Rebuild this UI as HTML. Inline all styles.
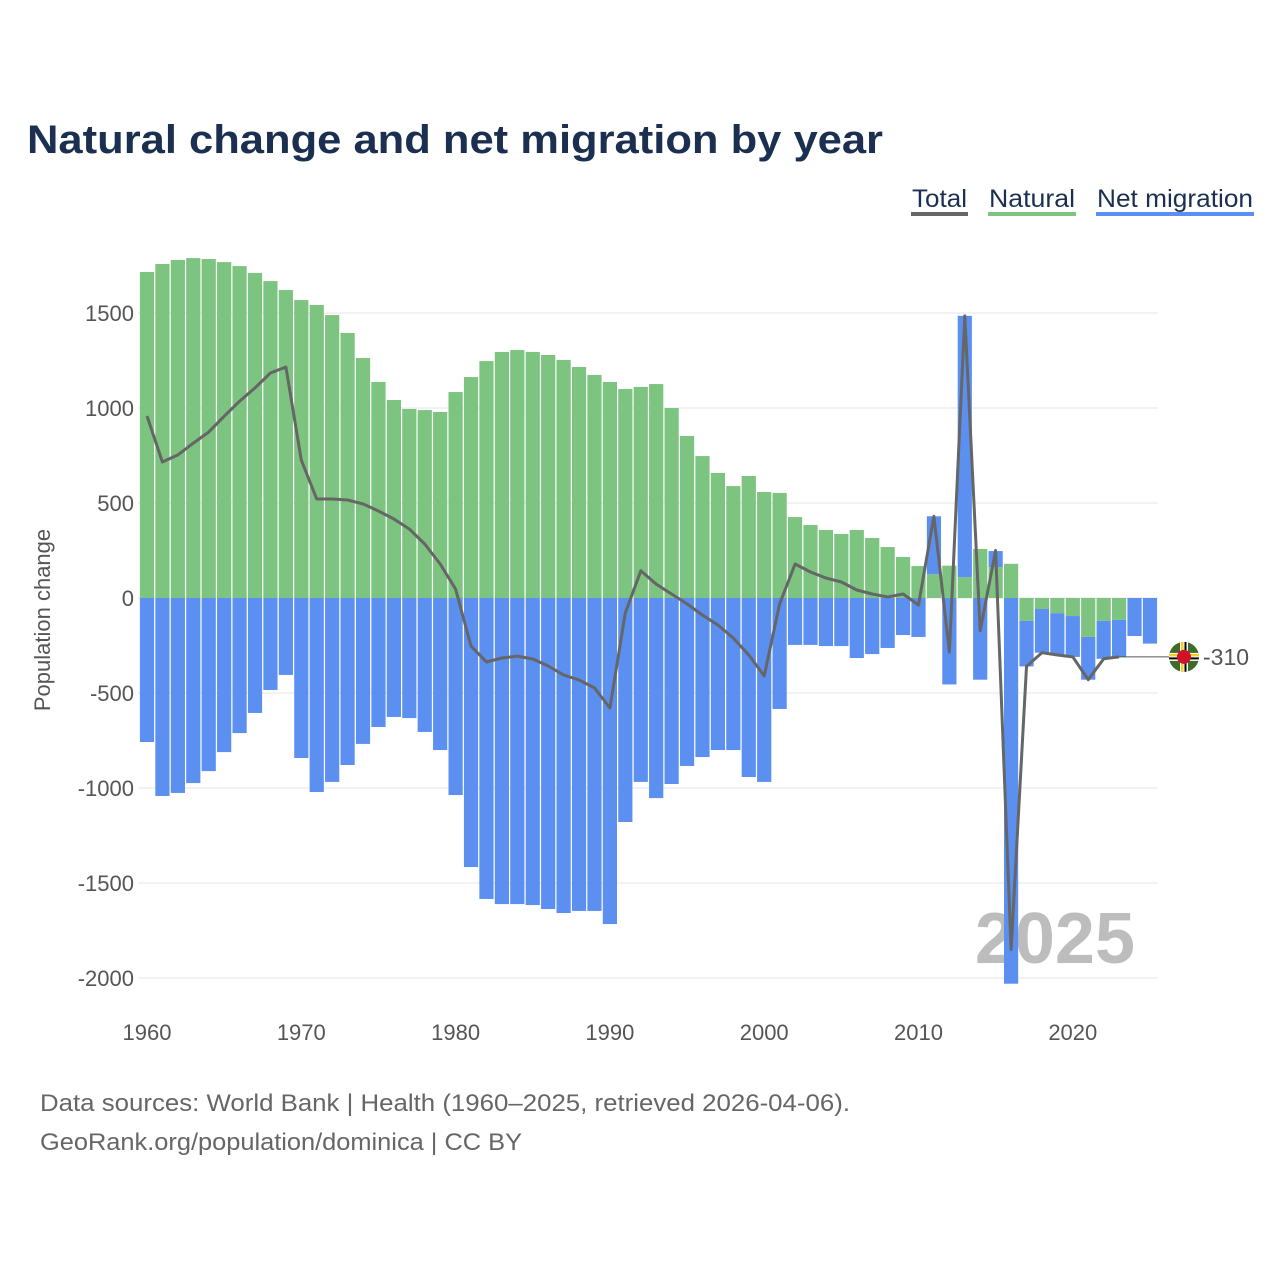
<!DOCTYPE html>
<html><head><meta charset="utf-8"><style>
html,body{margin:0;padding:0;background:#fff;}
svg{display:block;font-family:"Liberation Sans",sans-serif;}
</style></head><body>
<svg id="chart" width="1280" height="1280" viewBox="0 0 1280 1280">
<text x="27" y="153" font-size="40" font-weight="bold" fill="#1b3050" textLength="856" lengthAdjust="spacingAndGlyphs">Natural change and net migration by year</text>
<g>
<g><text x="912" y="207" font-size="25" fill="#1b3050" textLength="55" lengthAdjust="spacingAndGlyphs">Total</text><rect x="911" y="212" width="57" height="4" fill="#666"/></g>
<g><text x="989" y="207" font-size="25" fill="#1b3050" textLength="86" lengthAdjust="spacingAndGlyphs">Natural</text><rect x="988" y="212" width="88" height="4" fill="#7cc47f"/></g>
<g><text x="1097" y="207" font-size="25" fill="#1b3050" textLength="156" lengthAdjust="spacingAndGlyphs">Net migration</text><rect x="1096" y="212" width="158" height="4" fill="#5b8ff0"/></g>
</g>
<g id="grid"></g>
<g id="yticks"></g>
<g id="xticks"></g>
<text x="1135" y="963" font-size="72" font-weight="bold" fill="#bdbdbd" text-anchor="end">2025</text>
<g id="bars"></g>
<g id="lines"></g>
<text transform="translate(50,620) rotate(-90)" font-size="22" fill="#555" text-anchor="middle">Population change</text>
<text x="40" y="1111" font-size="24" fill="#666" textLength="810" lengthAdjust="spacingAndGlyphs">Data sources: World Bank | Health (1960–2025, retrieved 2026-04-06).</text>
<text x="40" y="1150" font-size="24" fill="#666" textLength="482" lengthAdjust="spacingAndGlyphs">GeoRank.org/population/dominica | CC BY</text>
</svg>
<script>
const years = [];
for (let y = 1960; y <= 2025; y++) years.push(y);
const natural = [1716,1758,1779,1789,1784,1768,1747,1711,1668,1621,1568,1542,1489,1395,1263,1137,1042,995,989,979,1084,1163,1247,1295,1305,1295,1279,1253,1216,1174,1137,1100,1111,1126,1000,853,747,658,589,642,558,553,426,384,358,337,358,316,268,216,168,125,170,110,258,163,180,-120,-58,-80,-95,-205,-120,-115,0,0];
const migration = [-758,-1042,-1026,-974,-911,-811,-711,-605,-484,-405,-842,-1021,-968,-879,-768,-679,-626,-632,-705,-800,-1037,-1416,-1584,-1611,-1611,-1616,-1637,-1658,-1647,-1647,-1716,-1179,-968,-1053,-979,-884,-837,-800,-800,-942,-968,-584,-247,-247,-253,-253,-316,-295,-263,-195,-205,305,-455,1375,-430,84,-2030,-240,-230,-220,-215,-225,-200,-195,-200,-240];
const total = [958,716,753,815,873,957,1036,1106,1184,1216,726,521,521,516,495,458,416,363,284,179,47,-253,-337,-316,-306,-321,-358,-405,-431,-473,-579,-79,143,73,21,-31,-90,-142,-211,-300,-410,-31,179,137,105,84,42,21,5,21,-37,430,-285,1485,-172,250,-1850,-360,-288,-300,-310,-430,-320,-310,null,null];
const yTicks = [1500,1000,500,0,-500,-1000,-1500,-2000];
const xTicks = [1960,1970,1980,1990,2000,2010,2020];
const lastLabel = "-310";

const NS = "http://www.w3.org/2000/svg";
const yS = v => 598 - v * 0.19;
const xS = yr => 147 + (yr - 1960) * 15.43;
const L = 138, R = 1158, BW = 14.2;
function mk(tag, attrs, parent) {
  const e = document.createElementNS(NS, tag);
  for (const k in attrs) e.setAttribute(k, attrs[k]);
  parent.appendChild(e);
  return e;
}
const grid = document.getElementById('grid'), yt = document.getElementById('yticks'), xt = document.getElementById('xticks');
yTicks.forEach(v => {
  const g = mk('line', {x1: L, x2: R, y1: yS(v), y2: yS(v), stroke: '#e6e6e6', 'stroke-width': 1}, grid);
  
  
  const t = mk('text', {x: 134, y: yS(v) + 8, 'font-size': 22, fill: '#555', 'text-anchor': 'end'}, yt);
  t.textContent = v;
  
  
});
xTicks.forEach(v => {
  const t = mk('text', {x: xS(v), y: 1040, 'font-size': 22, fill: '#555', 'text-anchor': 'middle'}, xt);
  t.textContent = v;
  
  
});
const bars = document.getElementById('bars');
years.forEach((yr, i) => {
  let pos = 0, neg = 0;
  [[natural[i], '#7cc47f', 'natural-bar'], [migration[i], '#5b8ff0', 'migration-bar']].forEach(([v, c, n]) => {
    if (!v) return;
    let a, b;
    if (v > 0) { a = pos; b = pos + v; pos = b; } else { a = neg; b = neg + v; neg = b; }
    const y1 = yS(Math.max(a, b)), y2 = yS(Math.min(a, b));
    const r = mk('rect', {x: xS(yr) - BW / 2, y: y1, width: BW, height: y2 - y1, fill: c}, bars);
    
    
  });
});
const lines = document.getElementById('lines');
let d = '', lastX = 0, lastY = 0;
total.forEach((v, i) => {
  if (v === null) return;
  lastX = xS(years[i]); lastY = yS(v);
  d += (d ? 'L' : 'M') + lastX.toFixed(1) + ',' + lastY.toFixed(1);
});
const ld = mk('line', {x1: lastX, x2: 1184, y1: lastY, y2: lastY, stroke: '#555', 'stroke-width': 1}, lines);


const p = mk('path', {d: d, fill: 'none', stroke: '#666', 'stroke-width': 3, 'stroke-linejoin': 'round'}, lines);


const fg = mk('g', {transform: `translate(1184,${lastY})`}, lines);


fg.innerHTML = '<clipPath id="fc"><circle r="15"/></clipPath><g clip-path="url(#fc)"><rect x="-15" y="-15" width="30" height="30" fill="#3f6b2a"/><rect x="-4" y="-15" width="8" height="30" fill="#fff"/><rect x="-15" y="-4" width="30" height="8" fill="#fff"/><rect x="-3" y="-15" width="2.5" height="30" fill="#f5d020"/><rect x="0.5" y="-15" width="2" height="30" fill="#000"/><rect x="-15" y="-3" width="30" height="2.5" fill="#f5d020"/><rect x="-15" y="0.5" width="30" height="2" fill="#000"/><circle r="7" fill="#d2102a"/></g>';
const lt = mk('text', {x: 1203, y: lastY + 8, 'font-size': 23, fill: '#555'}, lines);
lt.textContent = lastLabel;


</script>
</body></html>
